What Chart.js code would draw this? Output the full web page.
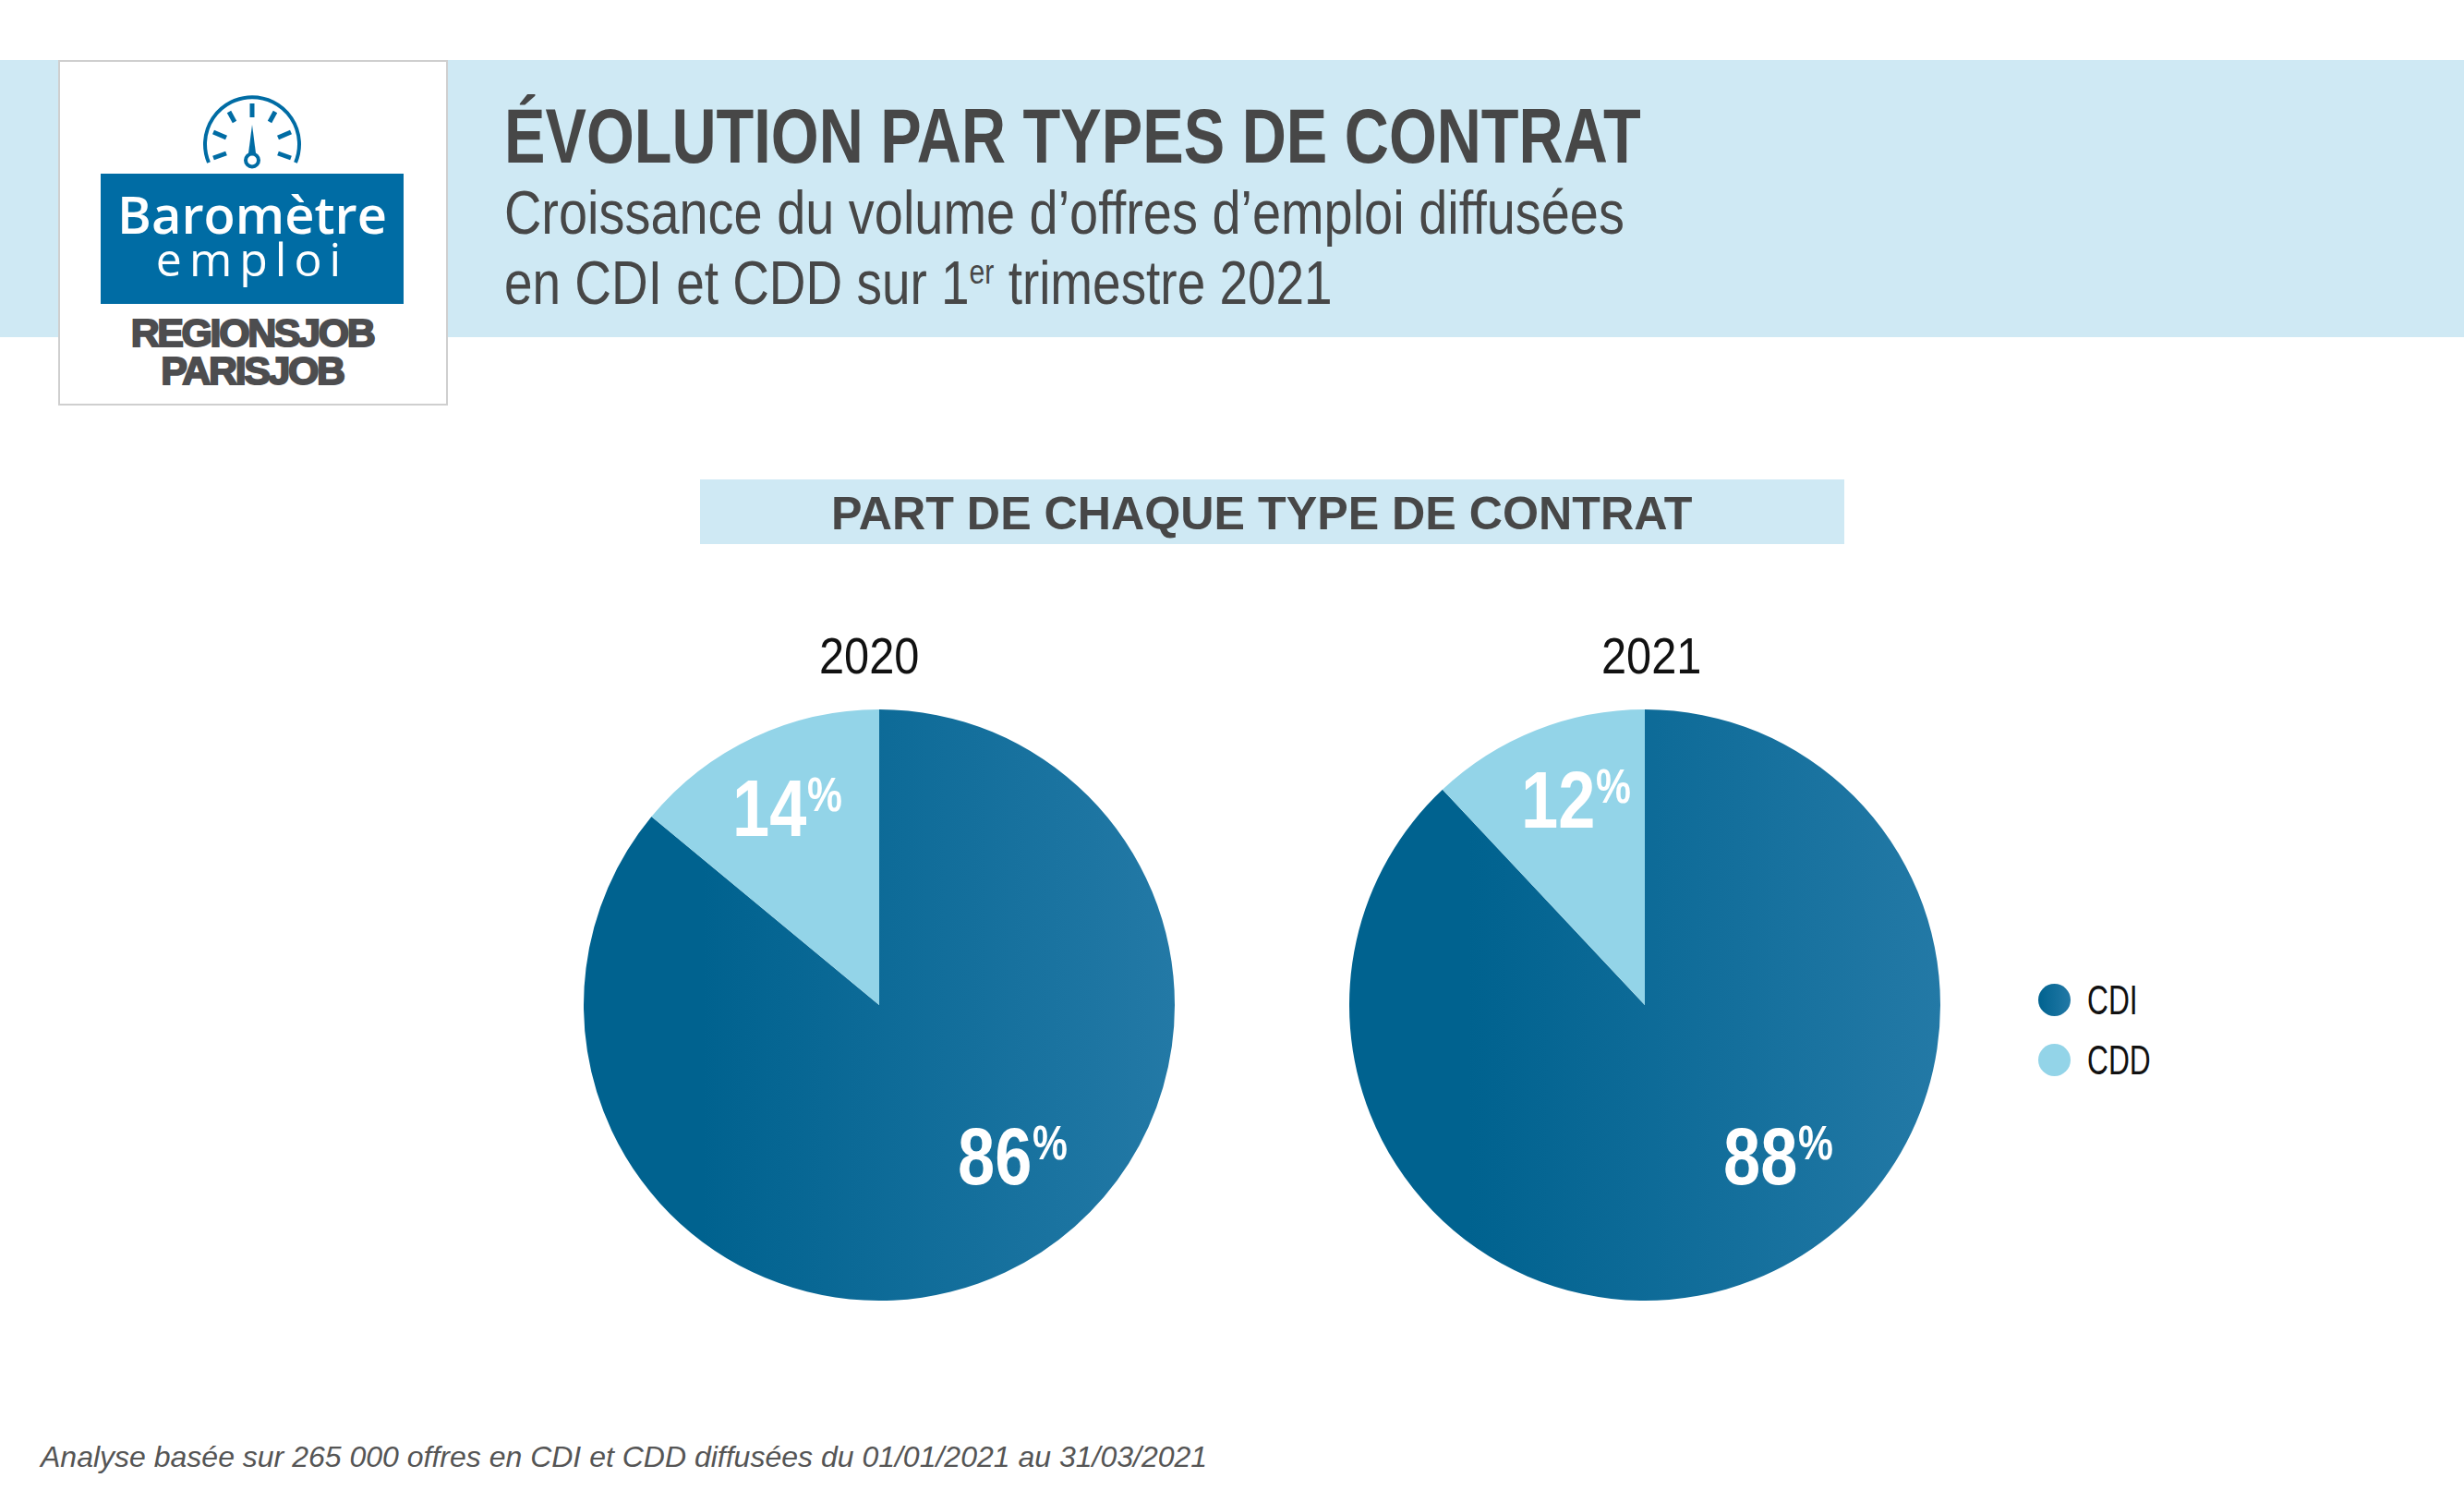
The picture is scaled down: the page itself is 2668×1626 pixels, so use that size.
<!DOCTYPE html>
<html lang="fr">
<head>
<meta charset="utf-8">
<title>Évolution par types de contrat</title>
<script src="https://cdn.jsdelivr.net/npm/chart.js@4"></script>
<style>
    html, body { margin: 0; padding: 0; background: #fff; }
    #page { position: relative; width: 2668px; height: 1626px; overflow: hidden; color: #474747; font-family: "Liberation Sans", sans-serif; }
    #page > * { position: absolute; }
    .txt { white-space: nowrap; transform-origin: left center; }
    sup { font-size: 0.55em; line-height: 0; vertical-align: 0.62em; }
    canvas { position: absolute; }
    .dot { position: absolute; width: 35px; height: 35px; border-radius: 50%; }
</style>
</head>
<body>
<div id="page">
    <!-- bandeau du haut -->
    <div style="left:0;top:65px;width:2668px;height:300px;background:#cfe9f4"></div>

    <!-- logo -->
    <div style="left:63px;top:65px;width:418px;height:370px;background:#fff;border:2px solid #cfcfcf"></div>
    <svg style="left:0;top:0" width="500" height="190" fill="none" stroke="#006ca4">
        <path d="M226 176 A51 51 0 1 1 320 176" stroke-width="4"/>
        <g stroke-width="5">
            <line x1="273" y1="112" x2="273" y2="127"/>
            <line x1="248" y1="121" x2="254" y2="132"/>
            <line x1="298" y1="121" x2="292" y2="132"/>
            <line x1="231" y1="143" x2="245" y2="149"/>
            <line x1="315" y1="143" x2="301" y2="149"/>
            <line x1="231" y1="171" x2="245" y2="166"/>
            <line x1="315" y1="171" x2="301" y2="166"/>
        </g>
        <path d="M273 135 L277 166 L269 166 Z" fill="#006ca4" stroke="none"/>
        <circle cx="273" cy="173.5" r="7" stroke-width="4"/>
    </svg>
    <div style="left:109px;top:188px;width:328px;height:141px;background:#006ca4"></div>
    <div class="txt" style="left:109px;width:328px;text-align:center;top:204px;color:#fff;font-family:'Open Sans'">
        <div style="font-weight:600;font-size:56px;line-height:54px">Baromètre</div>
        <div style="font-size:50px;line-height:44px;letter-spacing:8px">emploi</div>
    </div>
    <div class="txt" style="left:109px;width:328px;text-align:center;top:340px;font:700 43px/41px 'Liberation Sans';letter-spacing:-2.4px;color:#4d4d4f;-webkit-text-stroke:2px #4d4d4f">REGIONSJOB<br>PARISJOB</div>

    <!-- titres -->
    <div class="txt" style="left:546px;top:100px;font-weight:700;font-size:83px;line-height:96px;transform:scaleX(0.803)">ÉVOLUTION PAR TYPES DE CONTRAT</div>
    <div class="txt" style="left:546px;top:190px;font-size:66px;line-height:80px;transform:scaleX(0.847)">Croissance du volume d’offres d’emploi diffusées</div>
    <div class="txt" style="left:546px;top:266px;font-size:66px;line-height:80px;transform:scaleX(0.832)">en CDI et CDD sur 1<sup>er</sup> trimestre 2021</div>

    <div style="left:758px;top:519px;width:1239px;height:70px;background:#cfe9f4"></div>
    <div class="txt" style="left:900px;top:519px;font-weight:700;font-size:50px;line-height:74px;transform:scaleX(1.004)">PART DE CHAQUE TYPE DE CONTRAT</div>

    <!-- années -->
    <div id="year0" class="txt" style="left:887px;top:678px;font-size:56px;line-height:64px;color:#111;transform:scaleX(0.87)"></div>
    <div id="year1" class="txt" style="left:1734px;top:678px;font-size:56px;line-height:64px;color:#111;transform:scaleX(0.87)"></div>

    <canvas id="pie0" width="640" height="640" style="left:632px;top:768px"></canvas>
    <canvas id="pie1" width="640" height="640" style="left:1461px;top:768px"></canvas>

    <!-- légende -->
    <div id="legend" style="left:2207px;top:1062px;width:200px;height:120px"></div>

    <div class="txt" style="left:44px;top:1557px;font-style:italic;font-size:32px;line-height:40px;color:#555">Analyse basée sur 265 000 offres en CDI et CDD diffusées du 01/01/2021 au 31/03/2021</div>
</div>

<script>
    // Données
    const categories = ['CDI', 'CDD'];
    const years = ['2020', '2021'];
    const values2020 = [86, 14];
    const values2021 = [88, 12];

    const cddColor = '#93d4e8';
    const cdiLeft = '#00628f';
    const cdiRight = '#2379a6';

    Chart.defaults.animation = false;

    // Dégradé horizontal pour la part CDI, couleur unie pour CDD
    function sliceColor(context) {
        if (context.dataIndex !== 0) {
            return cddColor;
        }
        const chart = context.chart;
        const gradient = chart.ctx.createLinearGradient(0, 0, chart.width, 0);
        gradient.addColorStop(0.2, cdiLeft);
        gradient.addColorStop(1, cdiRight);
        return gradient;
    }

    // Affiche "86" en gros et "%" en exposant sur chaque part
    const percentLabels = {
        id: 'percentLabels',
        afterDatasetsDraw(chart, args, opts) {
            const ctx = chart.ctx;
            const arcs = chart.getDatasetMeta(0).data;
            const values = chart.data.datasets[0].data;
            arcs.forEach((arc, i) => {
                const number = String(values[i]);
                ctx.save();
                ctx.translate(arc.x + opts.offsets[i][0], arc.y + opts.offsets[i][1]);
                ctx.scale(0.82, 1);
                ctx.fillStyle = '#fff';
                ctx.textAlign = 'left';
                ctx.textBaseline = 'alphabetic';
                ctx.font = 'bold 88px "Liberation Sans"';
                const w = ctx.measureText(number).width;
                ctx.fillText(number, 0, 0);
                ctx.font = 'bold 52px "Liberation Sans"';
                ctx.fillText('%', w + 1, -27);
                ctx.restore();
            });
        }
    };

    function showPie(canvasId, values, offsets) {
        return new Chart(document.getElementById(canvasId).getContext('2d'), {
            type: 'pie',
            data: {
                labels: categories,
                datasets: [{
                    data: values,
                    backgroundColor: sliceColor,
                    borderWidth: 0
                }]
            },
            options: {
                responsive: false,
                layout: { padding: 0 },
                plugins: {
                    legend: { display: false },
                    tooltip: { enabled: false },
                    percentLabels: { offsets: offsets }
                }
            },
            plugins: [percentLabels]
        });
    }

    showPie('pie0', values2020, [[85, 194], [-159, -183]]);
    showPie('pie1', values2021, [[85, 194], [-134, -192]]);

    years.forEach((y, i) => {
        document.getElementById('year' + i).textContent = y;
    });

    // Légende
    const legend = document.getElementById('legend');
    categories.forEach((name, i) => {
        const top = i * 65;
        const bg = i === 0 ? `linear-gradient(90deg, ${cdiLeft}, ${cdiRight})` : cddColor;
        legend.insertAdjacentHTML('beforeend',
            `<div class="dot" style="left:0;top:${top + 3}px;background:${bg}"></div>` +
            `<div class="txt" style="position:absolute;left:53px;top:${top}px;font-size:44px;line-height:42px;color:#111;transform:scaleX(0.72)">${name}</div>`);
    });
</script>
</body>
</html>
